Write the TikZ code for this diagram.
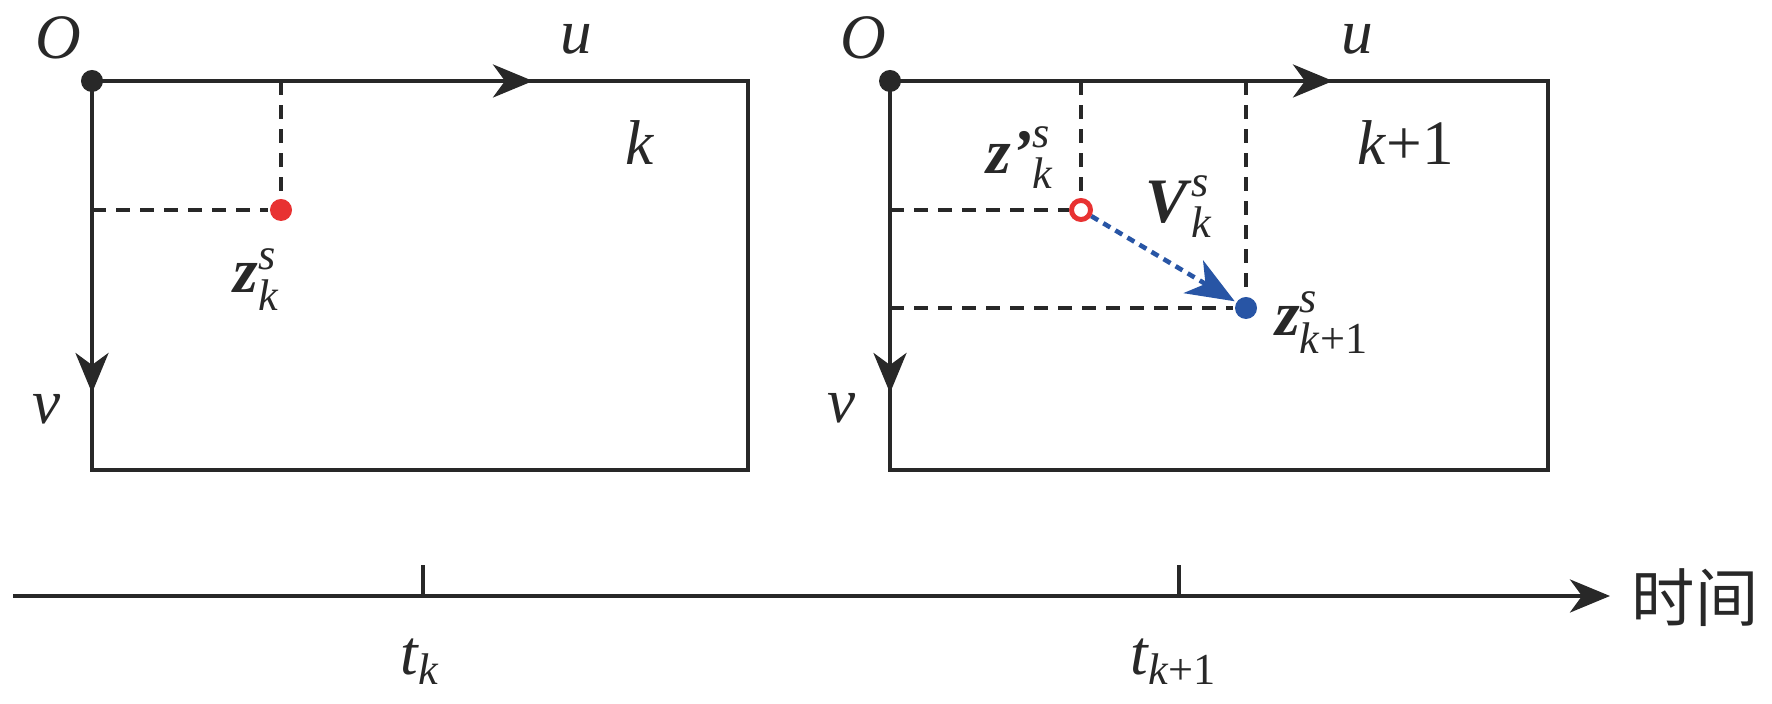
\documentclass[tikz,border=0pt]{standalone}
\usepackage{amsmath}
\usepackage{fontspec}
\setmainfont{Liberation Serif}
\newfontfamily\cjk{Noto Sans CJK SC}
\usetikzlibrary{arrows.meta}

\definecolor{linegray}{RGB}{40,40,40}
\definecolor{dotred}{RGB}{232,50,50}
\definecolor{dotblue}{RGB}{40,85,165}

\begin{document}
\begin{tikzpicture}[x=0.01cm, y=-0.01cm, line width=1.2pt, color=linegray,
	every node/.style={font=\fontsize{18}{22}\selectfont},
	guide/.style={dash pattern=on 0.14cm off 0.1cm},
	axistip/.style={-{Stealth[length=0.4cm, width=0.33cm, inset=0.12cm]}},
	dot/.style={circle, inner sep=0pt, minimum size=0.22cm}]
	\useasboundingbox (0,0) rectangle (1772,704);

	% frame k
	\draw (92,81) rectangle (748,470);
	\node[dot, fill=linegray] (o1) at (92,81) {};
	\coordinate (u1) at (533,81);
	\coordinate (v1) at (92,393);
	\draw[axistip] (o1.center) -- (u1);
	\draw[axistip] (o1.center) -- (v1);
	\node[dot, fill=dotred] (z1) at (281,210) {};
	\coordinate (z1u) at (281,81);
	\coordinate (z1v) at (92,210);
	\draw[guide] (z1u) -- (z1);
	\draw[guide] (z1v) -- (z1);
	\node (O1) at (58,38) {\textit{O}};
	\node (uu1) at (576,39) {\textit{u}};
	\node (vv1) at (47,409) {\textit{v}};
	\node (k1) at (640,143) {\textit{k}};
	\node (lz1) at (257,280) {$\textbf{\textit{z}}^{\textit{s}}_{\textit{k}}$};

	% frame k+1
	\draw (890,81) rectangle (1548,470);
	\node[dot, fill=linegray] (o2) at (890,81) {};
	\coordinate (u2) at (1333,81);
	\coordinate (v2) at (890,393);
	\draw[axistip] (o2.center) -- (u2);
	\draw[axistip] (o2.center) -- (v2);
	\node[dot, draw=dotred, fill=white, line width=1.4pt, minimum size=0.19cm] (z2p) at (1081,210) {};
	\node[dot, fill=dotblue] (z2) at (1246,308) {};
	\coordinate (z2pu) at (1081,81);
	\coordinate (z2pv) at (890,210);
	\coordinate (z2u) at (1246,81);
	\coordinate (z2v) at (890,308);
	\draw[guide] (z2pu) -- (z2p);
	\draw[guide] (z2pv) -- (z2p);
	\draw[guide] (z2u) -- (z2);
	\draw[guide] (z2v) -- (z2);
	\draw[dotblue, line width=1.3pt, dash pattern=on 0.08cm off 0.06cm,
		-{Stealth[length=0.48cm, width=0.38cm, inset=0.14cm]}] (z2p) -- (z2);
	\node (O2) at (863,38) {\textit{O}};
	\node (uu2) at (1357,39) {\textit{u}};
	\node (vv2) at (842,408) {\textit{v}};
	\node (k2) at (1406,143) {\textit{k}+1};
	\node (lz2p) at (1020,158) {${\textbf{\textit{z'}}}^{\textit{s}}_{\textit{k}}$};
	\node (lv2) at (1179,207) {$\textbf{\textit{V}}^{\textit{s}}_{\textit{k}}$};
	\node (lz2) at (1322,323) {$\textbf{\textit{z}}^{\textit{s}}_{\text{\textit{k}+1}}$};

	% time axis
	\coordinate (t0) at (13,596);
	\coordinate (t1) at (1610,596);
	\draw[axistip] (t0) -- (t1);
	\coordinate (tk) at (423,596);
	\coordinate (tk1) at (1179,596);
	\draw (tk) -- ++(0,-31);
	\draw (tk1) -- ++(0,-31);
	\node (ltk) at (420,662) {$\textit{t}_{\textit{k}}$};
	\node (ltk1) at (1174,662) {$\textit{t}_{\text{\textit{k}+1}}$};
	\node (time) at (1695,598) {\cjk 时间};
\end{tikzpicture}
\end{document}
